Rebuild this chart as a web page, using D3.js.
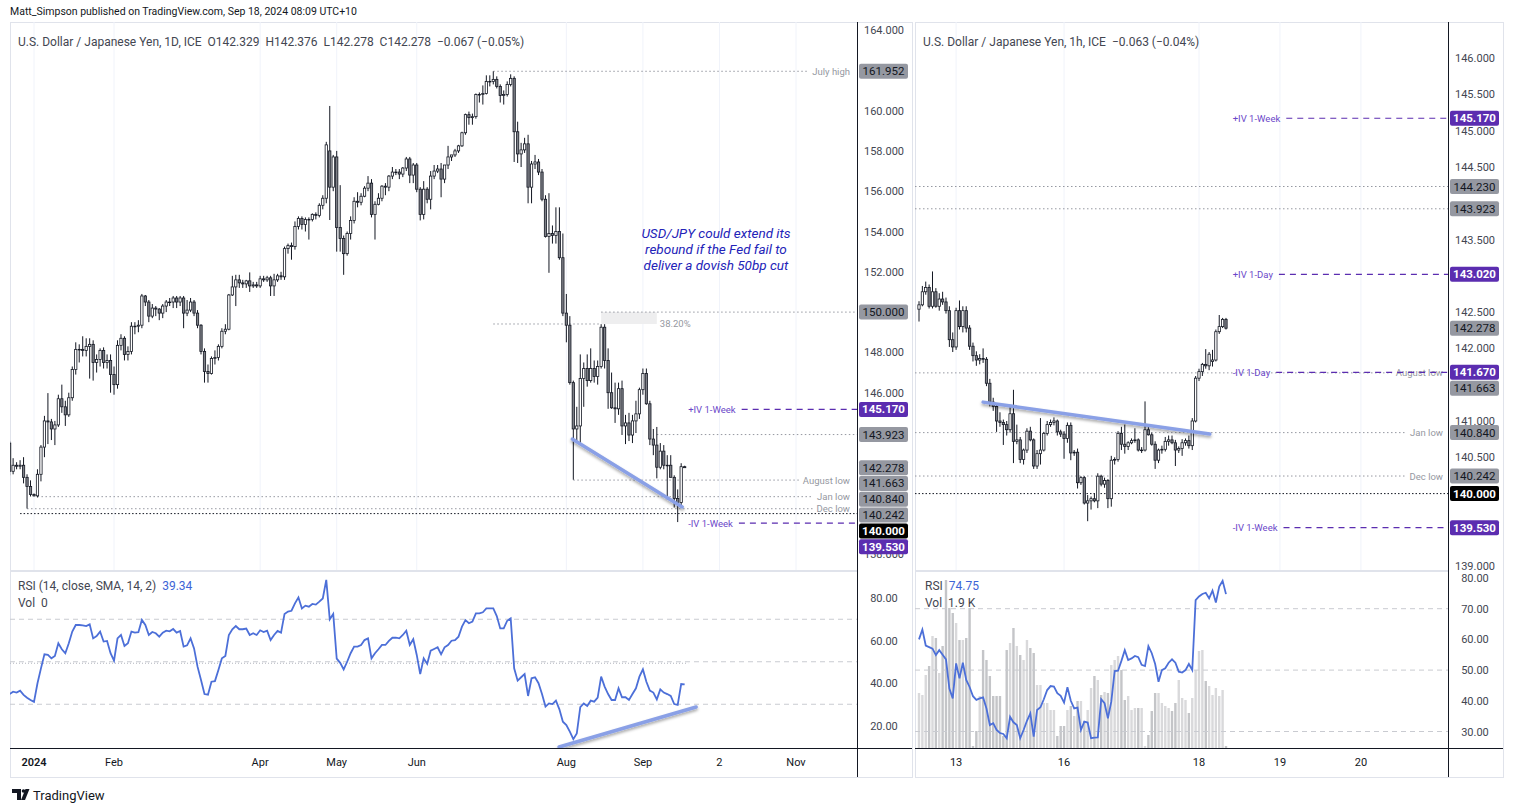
<!DOCTYPE html>
<html><head><meta charset="utf-8">
<script src="https://cdn.jsdelivr.net/npm/d3@7/dist/d3.min.js"></script>
<style>html,body{margin:0;padding:0;background:#fff;}svg{display:block;}</style>
</head><body><script>
// ---------------- DATA ----------------
// Daily USD/JPY bars, weekdays starting 2023-12-21 (index -7) through 2024-09-18
const dailyStartDate = "2023-12-21";
const dOpen = [
 143.50,142.10,142.40,142.35,142.40,141.80,141.35,
 140.95,140.88,141.95,143.30,144.60,144.55,144.20,144.40,145.70,145.30,144.90,145.75,147.15,148.15,148.15,148.10,148.30,148.40,147.50,147.65,148.10,147.50,147.60,
 146.90,146.40,148.35,148.70,147.90,148.05,149.30,149.30,149.35,150.80,150.50,149.80,150.20,150.15,149.95,150.30,150.50,150.50,150.70,150.50,150.70,
 149.95,150.10,150.50,149.95,149.35,148.05,147.05,146.95,147.70,147.75,148.30,149.05,149.15,150.85,151.25,151.60,151.45,151.40,151.55,151.30,151.35,
 151.30,151.65,151.60,151.70,151.30,151.60,151.80,151.75,153.15,153.30,153.25,154.25,154.65,154.35,154.60,154.60,154.85,154.80,155.30,155.65,158.00,156.20,
 157.70,154.20,153.65,152.90,153.90,154.55,155.50,155.45,155.75,156.15,156.40,154.85,155.35,155.65,156.25,156.20,156.75,156.95,156.95,156.85,157.15,157.60,156.80,
 157.30,156.10,154.85,156.10,155.60,156.75,157.00,157.10,156.60,157.30,157.70,157.80,158.00,158.25,158.90,159.80,159.65,159.70,160.80,160.80,
 160.85,161.45,161.45,161.55,161.20,160.75,160.80,161.30,161.60,158.95,157.85,158.05,158.35,156.20,157.35,157.45,156.95,155.60,153.75,153.90,153.80,154.00,152.70,
 149.95,149.35,146.50,144.20,144.35,146.70,147.20,146.60,147.20,146.80,147.30,149.25,147.60,146.00,145.25,145.20,146.20,144.35,144.50,143.90,144.60,144.95,
 146.15,146.95,145.45,143.70,143.40,142.30,143.10,142.40,142.40,141.80,140.75,140.55,142.329];
const dHigh = [
 143.60,142.75,142.55,142.65,142.80,141.95,141.65,
 141.00,142.20,143.40,144.85,145.98,144.70,144.60,145.90,146.40,145.60,146.00,147.30,148.50,148.40,148.80,148.70,148.70,148.60,147.90,148.20,148.25,147.90,147.90,
 147.30,148.60,148.90,148.80,148.30,149.50,149.50,149.60,150.90,150.85,150.60,150.40,150.30,150.20,150.40,150.60,150.70,150.80,150.80,150.80,150.80,
 150.60,150.70,150.60,150.10,149.40,148.20,147.40,147.80,148.10,148.40,149.20,149.40,150.90,151.80,151.85,151.85,151.60,151.60,151.97,151.50,151.50,
 151.80,151.80,151.80,151.80,151.90,151.90,152.00,153.25,153.40,153.45,154.50,154.75,154.75,154.70,154.70,154.90,154.95,155.40,155.80,158.45,160.23,157.80,
 158.00,156.30,153.80,154.00,154.75,155.70,155.95,155.90,156.25,156.75,156.60,155.50,155.90,156.30,156.40,156.80,157.20,157.10,157.10,157.20,157.70,157.70,157.40,
 157.40,156.20,156.50,156.20,157.00,157.30,157.30,157.40,157.30,158.25,157.80,158.10,158.30,158.95,159.85,159.95,159.85,160.85,160.90,161.25,
 161.75,161.75,161.95,161.70,161.30,161.00,161.45,161.80,161.70,159.45,158.40,158.65,158.80,157.50,157.80,157.60,157.10,155.80,155.90,154.30,155.20,155.20,153.90,
 150.90,149.80,146.60,145.30,147.90,147.50,147.90,148.20,147.60,147.60,149.40,149.40,148.20,147.00,146.50,146.50,146.60,144.90,145.00,144.90,145.60,146.25,
 147.20,147.20,145.60,144.20,144.30,143.50,143.40,142.90,142.90,141.90,141.20,142.50,142.376];
const dLow = [
 141.90,141.95,142.20,142.20,141.50,140.25,140.85,
 140.85,140.80,141.60,142.80,143.45,143.65,143.40,144.30,145.00,144.35,144.80,145.60,146.90,147.50,147.80,147.80,146.70,146.60,147.00,147.30,147.20,147.20,146.00,
 145.90,146.20,148.10,147.60,147.60,147.90,148.90,149.00,149.20,150.30,149.50,149.70,149.80,149.60,149.70,150.00,150.30,150.20,150.20,150.30,149.20,
 149.80,150.00,149.80,149.20,147.90,146.50,146.50,146.90,147.40,147.60,148.20,148.90,149.10,150.80,150.30,151.20,151.20,151.20,151.00,151.20,151.20,
 151.20,151.50,151.50,150.80,150.80,151.50,151.60,151.60,152.90,152.60,153.10,154.10,154.10,154.00,153.60,154.50,154.60,154.70,155.10,155.40,154.57,156.00,
 153.00,153.00,151.85,152.80,153.60,154.40,155.20,155.30,155.70,156.00,154.70,153.60,155.30,155.50,155.80,156.00,156.60,156.80,156.60,156.70,157.00,156.40,156.40,
 155.95,154.55,154.60,155.40,155.10,156.60,156.90,155.70,156.40,157.10,157.50,157.70,157.90,158.20,158.80,159.30,159.30,159.60,160.40,160.30,
 160.80,161.20,161.30,161.10,160.40,160.30,160.70,161.20,157.45,157.40,157.20,157.90,155.40,155.40,157.10,156.80,155.50,153.70,151.95,153.40,153.40,152.60,149.80,
 148.50,146.40,141.68,143.60,143.50,145.30,146.30,146.50,146.50,146.40,147.20,147.20,145.20,145.20,144.50,144.90,143.90,143.45,143.60,143.50,144.00,144.70,
 145.90,145.40,143.40,142.90,141.75,142.20,142.20,140.70,141.80,140.30,139.58,140.40,142.278];
const dClose = [
 142.10,142.40,142.35,142.40,141.80,141.35,140.95,
 140.88,141.95,143.30,144.60,144.55,144.20,144.40,145.70,145.30,144.90,145.75,147.15,148.15,148.15,148.10,148.30,148.40,147.50,147.65,148.10,147.50,147.60,146.90,
 146.40,148.35,148.70,147.90,148.05,149.30,149.30,149.35,150.80,150.50,149.80,150.20,150.15,149.95,150.30,150.50,150.50,150.70,150.50,150.70,149.95,
 150.10,150.50,149.95,149.35,148.05,147.05,146.95,147.70,147.75,148.30,149.05,149.15,150.85,151.25,151.60,151.45,151.40,151.55,151.30,151.35,151.30,
 151.65,151.60,151.70,151.30,151.60,151.80,151.75,153.15,153.30,153.25,154.25,154.65,154.35,154.60,154.60,154.85,154.80,155.30,155.65,158.30,156.20,157.70,
 154.20,153.65,152.90,153.90,154.55,155.50,155.45,155.75,156.15,156.40,154.85,155.35,155.65,156.25,156.20,156.75,156.95,156.95,156.85,157.15,157.60,156.80,157.30,
 156.10,154.85,156.10,155.60,156.75,157.00,157.10,156.60,157.30,157.70,157.80,158.00,158.25,158.90,159.80,159.65,159.70,160.80,160.80,160.85,
 161.45,161.45,161.55,161.20,160.75,160.80,161.30,161.60,158.95,157.85,158.05,158.35,156.20,157.35,157.45,156.95,155.60,153.75,153.90,153.80,154.00,152.70,149.95,
 149.35,146.50,144.20,144.35,146.70,147.20,146.60,147.20,146.80,147.30,149.25,147.60,146.00,145.25,145.20,146.20,144.35,144.50,143.90,144.60,144.95,146.15,
 146.95,145.45,143.70,143.40,142.30,143.10,142.40,142.40,141.80,140.75,140.55,142.329,142.278];
const dRsi = [
 34.8,35.9,35.5,36.4,34.4,33.1,32.0,
 31.1,39.9,46.9,53.5,53.2,51.6,52.7,58.7,55.9,54.0,58.7,64.2,67.3,67.3,67.1,66.8,67.6,61.0,62.1,64.2,59.5,59.8,54.0,
 50.5,61.0,62.6,57.4,58.7,64.2,63.7,63.9,69.7,67.3,62.6,64.0,63.4,61.8,63.7,64.6,64.3,65.4,63.7,64.5,57.1,
 57.7,61.0,56.3,47.7,41.4,34.8,34.5,40.6,40.9,46.1,51.6,52.7,62.6,65.3,66.8,65.3,65.3,65.6,62.6,63.4,62.6,
 64.8,64.0,64.6,60.2,62.6,64.5,63.7,72.5,73.6,74.0,77.5,80.3,75.1,76.4,75.9,77.2,76.9,78.3,79.8,88.5,70.0,72.5,
 51.5,49.5,46.4,50.0,54.0,57.1,57.1,57.9,60.2,61.0,51.6,54.0,55.9,57.9,57.9,59.8,61.3,61.3,61.0,62.6,64.6,57.9,60.6,
 53.2,44.2,51.6,49.0,55.2,56.0,56.8,53.5,56.8,57.9,59.9,60.2,61.8,66.5,69.6,68.1,68.9,72.8,72.8,73.3,
 75.1,75.1,75.1,71.5,65.7,65.7,69.3,70.4,46.9,41.1,42.7,44.2,33.9,42.2,42.7,39.9,34.8,28.9,30.4,30.1,31.7,27.6,21.8,
 20.2,17.1,13.6,16.3,28.6,30.4,29.2,31.7,31.2,33.1,43.0,38.3,34.8,32.0,32.0,37.5,33.3,33.3,32.0,34.8,37.5,43.0,
 46.4,40.6,36.4,35.5,32.3,37.0,35.5,34.8,33.9,30.1,29.7,39.5,39.34];
const dailyTickLabels = ["2024","Feb","Apr","May","Jun","Aug","Sep","2","Nov"];
const dailyTickDates  = ["2024-01-01","2024-02-01","2024-04-01","2024-05-01","2024-06-03","2024-08-01","2024-09-02","2024-10-02","2024-11-01"];

// Hourly USD/JPY bars (Sep 12 -> Sep 18 2024)
const hOpen = [142.54,142.60,142.78,142.84,142.58,142.78,142.58,142.68,142.64,142.52,
 142.12,142.02,142.52,142.30,142.52,142.28,142.03,141.90,141.84,141.86,
 141.85,141.52,141.26,141.20,141.00,140.98,140.95,140.88,141.10,140.72,
 140.74,140.47,140.60,140.86,140.74,140.38,140.55,140.60,140.83,140.95,
 140.98,141.00,140.85,140.82,140.76,140.94,140.56,140.57,140.15,140.22,
 139.87,139.90,139.93,139.90,140.24,140.13,140.18,139.93,140.46,140.47,
 140.83,140.68,140.65,140.70,140.73,140.74,140.60,140.60,140.88,140.81,
 140.68,140.46,140.60,140.61,140.72,140.74,140.70,140.60,140.62,140.70,
 140.73,140.66,141.00,141.59,141.68,141.78,141.76,141.82,141.84,142.23,142.30,142.40];
const hHigh = [142.65,142.86,142.92,142.88,143.06,142.83,142.76,142.78,142.70,142.58,
 142.22,142.56,142.66,142.58,142.58,142.32,142.08,141.96,141.92,142.00,
 141.88,141.58,141.32,141.24,141.12,141.02,141.00,141.22,141.43,140.95,
 140.78,140.62,140.90,140.92,140.76,140.60,141.04,140.85,141.00,141.02,
 141.05,141.02,140.88,140.86,140.98,140.98,140.60,140.62,140.24,140.24,
 139.98,139.96,140.00,140.28,140.26,140.22,140.20,140.52,140.50,140.86,
 140.92,140.95,140.72,140.76,140.90,140.76,140.64,141.27,140.92,140.84,
 140.72,140.62,140.66,140.78,140.80,140.80,140.74,140.65,140.75,140.76,
 140.80,141.04,141.62,141.72,141.80,141.99,141.95,141.98,142.26,142.46,142.42,142.42];
const hLow = [142.37,142.58,142.74,142.55,142.55,142.56,142.52,142.60,142.48,142.02,
 141.95,141.98,142.26,142.22,142.22,141.98,141.82,141.76,141.78,141.80,
 141.48,141.20,141.14,140.85,140.92,140.67,140.80,140.84,140.42,140.68,
 140.42,140.40,140.56,140.72,140.34,140.34,140.40,140.58,140.80,140.92,
 140.94,140.80,140.78,140.48,140.70,140.46,140.52,140.07,140.12,139.85,
 139.62,139.78,139.88,139.80,140.10,140.08,139.80,139.82,140.40,140.44,
 140.60,140.55,140.60,140.68,140.70,140.58,140.56,140.58,140.80,140.66,
 140.34,140.42,140.55,140.58,140.66,140.68,140.38,140.56,140.52,140.66,
 140.62,140.60,140.98,141.55,141.62,141.72,141.70,141.75,141.82,142.20,142.28,142.26];
const hClose = [142.60,142.78,142.84,142.58,142.78,142.58,142.68,142.64,142.52,142.12,
 142.02,142.52,142.30,142.52,142.28,142.03,141.90,141.84,141.86,141.85,
 141.52,141.26,141.20,141.00,140.98,140.95,140.88,141.10,140.72,140.74,
 140.47,140.60,140.86,140.74,140.38,140.55,140.60,140.83,140.95,140.98,
 141.00,140.85,140.82,140.76,140.94,140.56,140.57,140.15,140.22,139.87,
 139.90,139.93,139.90,140.24,140.13,140.18,139.93,140.46,140.47,140.83,
 140.68,140.65,140.70,140.73,140.74,140.60,140.60,140.88,140.81,140.68,
 140.46,140.60,140.61,140.72,140.74,140.70,140.60,140.62,140.70,140.73,
 140.66,141.00,141.59,141.68,141.78,141.76,141.92,141.84,142.23,142.30,142.40,142.278];
const hRsi = [60.0,63.2,58.0,57.5,57.0,54.9,56.5,55.0,53.5,44.0,
 40.8,52.2,47.3,52.4,46.8,44.5,41.5,40.3,40.8,41.1,
 37.5,32.1,32.7,30.5,29.5,29.2,27.8,34.8,33.0,32.1,
 27.8,30.5,33.5,35.9,28.3,37.0,37.9,40.5,43.5,44.8,
 44.6,42.5,41.6,39.4,44.4,40.0,37.5,37.8,30.5,33.2,
 32.9,27.8,28.0,28.1,40.5,39.2,34.3,39.7,49.7,49.8,
 53.0,56.5,53.3,53.8,54.6,54.2,51.7,51.3,57.8,55.5,
 52.0,46.2,50.0,50.6,52.4,53.5,52.4,49.5,49.2,50.0,
 52.0,50.0,72.8,74.0,74.8,75.2,73.4,75.9,72.0,77.2,79.1,74.75];
const hVolK = [55,53,73,82,112,110,75,102,168,140,
 135,125,108,108,110,140,2,17,52,98,
 88,72,52,52,52,12,98,105,120,102,
 93,88,108,100,95,63,63,45,45,38,
 38,12,22,22,38,42,32,47,47,27,
 38,60,72,68,53,56,55,83,88,92,
 78,48,52,38,40,40,40,2,13,37,
 55,55,45,42,40,37,45,68,50,48,
 35,50,78,97,98,67,62,53,60,52,58,2];
const hourlyTickLabels = ["13","16","18","19","20"];
const hourlyTickBars   = [11,43,83,107,131];

// Levels / annotations
const leftLevelValues = [161.952,150.000,143.923,141.663,140.840,140.242,140.000];
const leftLevelNames  = ["July high","","","August low","Jan low","Dec low",""];
const leftLevelFrom   = ["2024-07-03","2024-08-15","2024-09-06","2024-08-05","2024-01-02","2023-12-28","2023-12-26"];
const leftIvValues = [145.170,139.530];
const leftIvNames  = ["+IV 1-Week","-IV 1-Week"];
const rightLevelValues = [144.230,143.923,141.663,140.840,140.242,140.000];
const rightLevelNames  = ["","","August low","Jan low","Dec low",""];
const rightIvValues = [145.170,143.020,141.670,139.530];
const rightIvNames  = ["+IV 1-Week","+IV 1-Day","-IV 1-Day","-IV 1-Week"];
const fibLevel = 149.41, fibTop = 150.000;
const noteLines = ["USD/JPY could extend its","rebound if the Fed fail to","deliver a dovish 50bp cut"];
const lastDaily = 142.278, lastHourly = 142.278;

// ---------------- RENDER ----------------
const FONT = 'Roboto, "Noto Sans", "Liberation Sans", sans-serif';
const svg = d3.select("body").append("svg").attr("width",1514).attr("height",812).style("font-family",FONT);
const defs = svg.append("defs");
const flt = defs.append("filter").attr("id","shd").attr("x","-20%").attr("y","-200%").attr("width","140%").attr("height","500%");
flt.append("feDropShadow").attr("dx",0).attr("dy",2).attr("stdDeviation",1.6).attr("flood-color","#000").attr("flood-opacity",0.35);
function clip(id,x,y,w,h){defs.append("clipPath").attr("id",id).append("rect").attr("x",x).attr("y",y).attr("width",w).attr("height",h);}
clip("cLP",10,22,847,548); clip("cLR",10,572,847,176);
clip("cRP",915,22,533,548); clip("cRR",915,572,533,176);
clip("cLA",857,22,56,548); clip("cRA",1448,22,56,548);

// weekday index map
const fmt = d3.timeFormat("%Y-%m-%d");
const dayIdx = new Map();
{ let d = d3.timeParse("%Y-%m-%d")(dailyStartDate), k=-7;
  while(k<260){ const w=d.getDay(); if(w!==0&&w!==6){dayIdx.set(fmt(d),k);k++;} d=d3.timeDay.offset(d,1);} }
const di = s => dayIdx.get(s);

const xL = d3.scaleLinear().domain([0,219]).range([34,796]);
const yL = d3.scaleLinear().domain([164,138]).range([30,553.9]);
const rL = d3.scaleLinear().domain([80,20]).range([598,725.5]);
const xR = d3.scaleLinear().domain([0,83]).range([919,1199]);
const yR = d3.scaleLinear().domain([146,139]).range([58,566.2]);
const rR = d3.scaleLinear().domain([80,30]).range([578,731.5]);
const vR = d3.scaleLinear().domain([0,170]).range([748,578]);

// header
svg.append("text").attr("x",10).attr("y",15).attr("font-size",10.5).attr("fill","#131722").text("Matt_Simpson published on TradingView.com, Sep 18, 2024 08:09 UTC+10");
svg.append("text").attr("x",33).attr("y",800).attr("font-size",13).attr("fill","#131722").text("TradingView");
const logo = svg.append("g").attr("fill","#131722");
logo.append("path").attr("d","M12,789 h9 v11 h-4 v-7 h-5 z");
logo.append("circle").attr("cx",23.5).attr("cy",791).attr("r",1.8);
logo.append("path").attr("d","M25.5,789 h4 l-4.5,11 h-4 z");

// panel frames
[[10.5,22.5,902,755],[915.5,22.5,588,755]].forEach(b=>svg.append("rect").attr("x",b[0]).attr("y",b[1]).attr("width",b[2]).attr("height",b[3]).attr("fill","none").attr("stroke","#e0e3eb"));

function panel(P, xs, ys, rs, tickIdx, tickLabels, title, clipP, clipR, clipA, priceTicks, rsiTicks, boxVals){
  const g = svg.append("g");
  g.selectAll("line.vg").data(tickIdx).join("line").attr("x1",d=>xs(d)).attr("x2",d=>xs(d)).attr("y1",P.top).attr("y2",P.rBot).attr("stroke","#f0f3fa").attr("stroke-width",1).attr("clip-path",`url(#${clipP})`);
  g.append("line").attr("x1",P.x0).attr("x2",P.x1).attr("y1",571).attr("y2",571).attr("stroke","#e0e3eb").attr("stroke-width",2);
  g.append("line").attr("x1",P.x0).attr("x2",P.ax1).attr("y1",P.rBot+0.5).attr("y2",P.rBot+0.5).attr("stroke","#131722");
  g.append("line").attr("x1",P.x1+0.5).attr("x2",P.x1+0.5).attr("y1",P.top).attr("y2",P.bot).attr("stroke","#131722");
  g.selectAll("text.tl").data(tickIdx).join("text").attr("x",d=>xs(d)).attr("y",766).attr("text-anchor","middle").attr("font-size",11).attr("fill","#131722")
    .attr("font-weight",(d,i)=>tickLabels[i]==="2024"?"600":"400").text((d,i)=>tickLabels[i]);
  // price ticks: skip ticks fully hidden behind a price label box
  const ga = svg.append("g").attr("clip-path",`url(#${clipA})`);
  const vis = priceTicks.filter(t=>!boxVals.some(y=>Math.abs(ys(t)-y)<6));
  ga.selectAll("text").data(vis).join("text").attr("x",P.x1+27).attr("y",d=>ys(d)+4).attr("text-anchor","middle").attr("font-size",11).attr("fill","#434651").text(d=>d.toFixed(3));
  g.selectAll("text.rt").data(rsiTicks).join("text").attr("x",P.x1+27).attr("y",d=>rs(d)+4).attr("text-anchor","middle").attr("font-size",11).attr("fill","#434651").text(d=>d.toFixed(2));
  const gr = svg.append("g").attr("clip-path",`url(#${clipR})`);
  gr.selectAll("line").data([70,50,30]).join("line").attr("x1",P.x0).attr("x2",P.x1).attr("y1",d=>rs(d)).attr("y2",d=>rs(d)).attr("stroke","#c9cbd1").attr("stroke-dasharray","5,4");
  svg.append("text").attr("x",P.x0+8).attr("y",46).attr("font-size",12).attr("fill","#434651").attr("xml:space","preserve").text(title);
  return {gp: svg.append("g").attr("clip-path",`url(#${clipP})`), gr};
}

function candles(g, xs, ys, O,H,Lo,C, off, bw){
  const idx = d3.range(C.length);
  g.append("g").selectAll("line").data(idx).join("line").attr("x1",k=>xs(k+off)).attr("x2",k=>xs(k+off)).attr("y1",k=>ys(H[k])).attr("y2",k=>ys(Lo[k])).attr("stroke","#131722").attr("stroke-width",1);
  g.append("g").selectAll("rect").data(idx).join("rect").attr("x",k=>xs(k+off)-bw/2).attr("y",k=>ys(Math.max(O[k],C[k])))
    .attr("width",bw).attr("height",k=>Math.max(0.6,Math.abs(ys(O[k])-ys(C[k])))).attr("fill",k=>C[k]>=O[k]?"#ffffff":"#7d7f86").attr("stroke","#131722").attr("stroke-width",0.8);
}

function stackBoxes(items, ys){
  const arr = items.map(d=>({...d, y: ys(d.v)})).sort((a,b)=>a.y-b.y);
  let prev=-1e9; arr.forEach(d=>{d.ly=Math.max(d.y,prev+15.8); prev=d.ly;});
  return arr;
}
function labelBoxes(arr, x0, w){
  const col={gray:["#9598a1","#131722","400"],purple:["#5b2db0","#ffffff","700"],black:["#000000","#ffffff","700"]};
  const g = svg.append("g");
  arr.forEach(d=>{
    g.append("rect").attr("x",x0).attr("y",d.ly-7.5).attr("width",w).attr("height",15).attr("rx",2).attr("fill",col[d.t][0]);
    g.append("text").attr("x",x0+w/2).attr("y",d.ly+4).attr("text-anchor","middle").attr("font-size",11.5).attr("font-weight",col[d.t][2]).attr("fill",col[d.t][1]).text(d.v.toFixed(3));
  });
}

function levelLine(g, x0, x1, y, color, dash, name, nameRight){
  let end = x1;
  if(name){
    const t = g.append("text").attr("x",nameRight).attr("y",y+3.5).attr("text-anchor","end").attr("font-size",9.5).attr("fill","#9598a1").text(name);
    end = nameRight - t.node().getComputedTextLength() - 4;
  }
  g.append("line").attr("x1",x0).attr("x2",end).attr("y1",y).attr("y2",y).attr("stroke",color).attr("stroke-dasharray",dash).attr("stroke-width",1);
}
function ivLine(g, xText, x1, y, name){
  const t = g.append("text").attr("x",xText).attr("y",y+3.5).attr("font-size",9.5).attr("fill","#6b47c9").text(name);
  const s = xText + t.node().getComputedTextLength() + 6;
  g.append("line").attr("x1",s).attr("x2",x1).attr("y1",y).attr("y2",y).attr("stroke","#5b2db0").attr("stroke-dasharray","6,5").attr("stroke-width",1.2);
}

// ---------- LEFT PANEL ----------
const Lp = {x0:10,x1:857,ax1:912,top:22,rBot:748,bot:777};
const lTickIdx = dailyTickDates.map(di);
const lBoxes = stackBoxes([
 {v:161.952,t:"gray"},{v:150.000,t:"gray"},{v:145.170,t:"purple"},{v:143.923,t:"gray"},{v:lastDaily,t:"gray"},
 {v:141.663,t:"gray"},{v:140.840,t:"gray"},{v:140.242,t:"gray"},{v:140.000,t:"black"},{v:139.530,t:"purple"}], yL);
const left = panel(Lp, xL, yL, rL, lTickIdx, dailyTickLabels, "U.S. Dollar / Japanese Yen, 1D, ICE  O142.329  H142.376  L142.278  C142.278  \u22120.067 (\u22120.05%)",
  "cLP","cLR","cLA", d3.range(164,137,-2), [80,60,40,20], lBoxes.map(d=>d.ly));
const fibX0 = xL(di("2024-07-03")), fibX1 = xL(di("2024-08-15")), fibX2 = xL(di("2024-09-06"));
left.gp.append("rect").attr("x",fibX1).attr("y",yL(fibTop)).attr("width",fibX2-fibX1).attr("height",yL(fibLevel)-yL(fibTop)).attr("fill","#eeeeef");
left.gp.append("line").attr("x1",fibX0).attr("x2",fibX1).attr("y1",yL(fibLevel)).attr("y2",yL(fibLevel)).attr("stroke","#9598a1").attr("stroke-dasharray","1.5,2.5");
left.gp.append("text").attr("x",fibX2+3).attr("y",yL(fibLevel)+3.5).attr("font-size",9.5).attr("fill","#9598a1").text("38.20%");
leftLevelValues.forEach((v,i)=>{
  const black = v===140;
  levelLine(left.gp, xL(di(leftLevelFrom[i])), Lp.x1, yL(v), black?"#131722":"#9598a1", black?"1.5,2":"1.5,2.5", leftLevelNames[i], 850);
});
leftIvValues.forEach((v,i)=> ivLine(left.gp, xL(di("2024-09-19")), Lp.x1, yL(v), leftIvNames[i]));
candles(left.gp, xL, yL, dOpen, dHigh, dLow, dClose, -7, 2.3);
const tl = d3.line().x(d=>xL(d[0])).y(d=>yL(d[1]));
left.gp.append("path").attr("d",tl([[154.7,143.70],[186.3,140.33]])).attr("stroke","#8aa0e6").attr("stroke-width",3.5).attr("stroke-linecap","round").attr("fill","none").attr("filter","url(#shd)");
noteLines.forEach((s,i)=> left.gp.append("text").attr("x",xL(196)).attr("y",yL(153.7)+i*16).attr("text-anchor","middle").attr("font-size",13.5).attr("font-style","italic").attr("fill","#2323b8").text(s));
left.gr.append("line").attr("x1",Lp.x0).attr("x2",xL(188)).attr("y1",rL(49.3)).attr("y2",rL(49.3)).attr("stroke","#b2b5be").attr("stroke-dasharray","1,2");
left.gr.append("path").datum(dRsi).attr("d",d3.line().x((d,k)=>xL(k-7)).y(d=>rL(d))).attr("fill","none").attr("stroke","#4c6fd8").attr("stroke-width",1.8);
left.gr.append("path").attr("d",d3.line().x(d=>xL(d[0])).y(d=>rL(d[1]))([[150.9,9.9],[190.3,28.7]])).attr("stroke","#8aa0e6").attr("stroke-width",3.5).attr("stroke-linecap","round").attr("fill","none").attr("filter","url(#shd)");
const lr = svg.append("text").attr("x",18).attr("y",590).attr("font-size",12).attr("fill","#434651").attr("xml:space","preserve");
lr.append("tspan").text("RSI (14, close, SMA, 14, 2)  "); lr.append("tspan").attr("fill","#3d64d6").text(dRsi[dRsi.length-1].toFixed(2));
svg.append("text").attr("x",18).attr("y",607).attr("font-size",12).attr("fill","#434651").attr("xml:space","preserve").text("Vol  0");
labelBoxes(lBoxes, 859, 49);

// ---------- RIGHT PANEL ----------
const Rp = {x0:915,x1:1448,ax1:1503,top:22,rBot:748,bot:777};
const rBoxes = stackBoxes([
 {v:145.170,t:"purple"},{v:144.230,t:"gray"},{v:143.923,t:"gray"},{v:143.020,t:"purple"},{v:lastHourly,t:"gray"},
 {v:141.670,t:"purple"},{v:141.663,t:"gray"},{v:140.840,t:"gray"},{v:140.242,t:"gray"},{v:140.000,t:"black"},{v:139.530,t:"purple"}], yR);
const right = panel(Rp, xR, yR, rR, hourlyTickBars, hourlyTickLabels, "U.S. Dollar / Japanese Yen, 1h, ICE  \u22120.063 (\u22120.04%)",
  "cRP","cRR","cRA", d3.range(146,138.9,-0.5), [80,70,60,50,40,30], rBoxes.map(d=>d.ly));
rightLevelValues.forEach((v,i)=>{
  const black = v===140;
  levelLine(right.gp, Rp.x0, Rp.x1, yR(v), black?"#131722":"#9598a1", black?"1.5,2":"1.5,2.5", rightLevelNames[i], 1443);
});
rightIvValues.forEach((v,i)=> ivLine(right.gp, xR(93), Rp.x1, yR(v), rightIvNames[i]));
candles(right.gp, xR, yR, hOpen, hHigh, hLow, hClose, 0, 2.3);
right.gp.append("path").attr("d",d3.line().x(d=>xR(d[0])).y(d=>yR(d[1]))([[19,141.26],[86.2,140.82]])).attr("stroke","#8aa0e6").attr("stroke-width",3.5).attr("stroke-linecap","round").attr("fill","none").attr("filter","url(#shd)");
right.gr.insert("g",":first-child").selectAll("rect").data(hVolK).join("rect").attr("x",(d,k)=>xR(k)-1.2).attr("width",2.4).attr("y",d=>vR(d)).attr("height",d=>748-vR(d))
  .attr("fill",(d,k)=>hClose[k]>=hOpen[k]?"#d9d9db":"#c4c5c8");
right.gr.append("path").datum(hRsi).attr("d",d3.line().x((d,k)=>xR(k)).y(d=>rR(d))).attr("fill","none").attr("stroke","#4c6fd8").attr("stroke-width",1.8);
const rr = svg.append("text").attr("x",925).attr("y",590).attr("font-size",12).attr("fill","#434651").attr("xml:space","preserve");
rr.append("tspan").text("RSI  "); rr.append("tspan").attr("fill","#3d64d6").text(hRsi[hRsi.length-1].toFixed(2));
svg.append("text").attr("x",925).attr("y",607).attr("font-size",12).attr("fill","#434651").attr("xml:space","preserve").text("Vol  1.9 K");
labelBoxes(rBoxes, 1450, 49);
</script></body></html>
